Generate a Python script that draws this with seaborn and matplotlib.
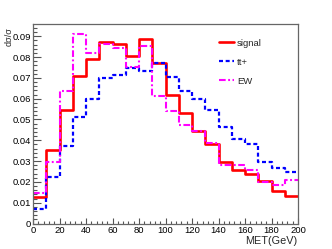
import numpy as np
import pandas as pd
import matplotlib
matplotlib.use("Agg")
import matplotlib.pyplot as plt
from matplotlib.ticker import MultipleLocator
import seaborn as sns

# ---- data (bin edges 0..200 GeV, 10 GeV width) ----
bin_edges = list(range(0, 210, 10))
signal = [0.0129, 0.0352, 0.0547, 0.0708, 0.0792, 0.0871, 0.0863, 0.0804, 0.0888, 0.0771,
          0.0618, 0.0531, 0.0446, 0.0380, 0.0298, 0.0256, 0.0236, 0.0204, 0.0156, 0.0132]
ttbar = [0.0071, 0.0222, 0.0374, 0.0512, 0.0597, 0.0698, 0.0712, 0.0746, 0.0735, 0.0773,
         0.0704, 0.0638, 0.0599, 0.0545, 0.0464, 0.0405, 0.0380, 0.0297, 0.0268, 0.0247]
ew = [0.0148, 0.0297, 0.0638, 0.0913, 0.0818, 0.0862, 0.0842, 0.0750, 0.0851, 0.0613,
      0.0541, 0.0472, 0.0446, 0.0387, 0.0281, 0.0281, 0.0258, 0.0201, 0.0185, 0.0208]
series_names = ["signal", "tt+", "EW"]
x_ticks = list(range(0, 220, 20))
y_ticks = [0, 0.01, 0.02, 0.03, 0.04, 0.05, 0.06, 0.07, 0.08, 0.09]
y_tick_labels = ["0", "0.01", "0.02", "0.03", "0.04", "0.05", "0.06", "0.07", "0.08", "0.09"]

centers = [(a + b) / 2 for a, b in zip(bin_edges[:-1], bin_edges[1:])]

sns.set_style("ticks")
plt.rcParams["font.family"] = ["Liberation Sans", "DejaVu Sans"]

fig = plt.figure(figsize=(3.32, 2.49), dpi=100)
ax = fig.add_axes([33 / 332, 1 - 223.5 / 249, (298 - 33) / 332, (223.5 - 24) / 249])

styles = [
    dict(color="#ff0000", linewidth=1.9, linestyle="-"),
    dict(color="#0000ff", linewidth=1.6, linestyle=(0, (1.8, 1.2))),
    dict(color="#ff00ff", linewidth=1.5, linestyle=(0, (3.2, 1.2, 0.9, 1.2))),
]
for name, vals, st in zip(series_names, [signal, ttbar, ew], styles):
    df = pd.DataFrame({"MET": centers, "w": vals})
    sns.histplot(data=df, x="MET", weights="w", bins=bin_edges, element="step",
                 fill=False, ax=ax, label=name, **st)

ax.set_xlim(0, 200)
ax.set_ylim(0, 0.0959)
ax.set_xticks(x_ticks)
ax.set_xticklabels([str(t) for t in x_ticks])
ax.set_yticks(y_ticks)
ax.set_yticklabels(y_tick_labels)
ax.xaxis.set_minor_locator(MultipleLocator(4))
ax.yaxis.set_minor_locator(MultipleLocator(0.002))
ax.tick_params(axis="both", which="both", direction="in", labelsize=6.8,
               colors="#555555", labelcolor="black", width=0.8)
ax.tick_params(axis="x", which="major", length=4, pad=1.5)
ax.tick_params(axis="x", which="minor", length=2)
ax.tick_params(axis="y", which="major", length=6, pad=1.5)
ax.tick_params(axis="y", which="minor", length=3)
for sp in ax.spines.values():
    sp.set_color("#666666")
    sp.set_linewidth(0.9)
ax.set_xlabel("")
ax.set_ylabel("")

fig.text(297 / 332, 1 - 236 / 249, "MET(GeV)", ha="right", va="top", fontsize=7.8)
fig.text(9 / 332, 1 - 27 / 249, "dσ/σ", ha="center", va="top", rotation=90, fontsize=6.6)

ax.legend(loc="upper left", bbox_to_anchor=(214 / 332, 1 - 34 / 249),
          bbox_transform=fig.transFigure, frameon=False, fontsize=6.8,
          handlelength=1.6, handletextpad=0.35, labelspacing=1.05, borderpad=0)

fig.savefig("out.png", dpi=100)
